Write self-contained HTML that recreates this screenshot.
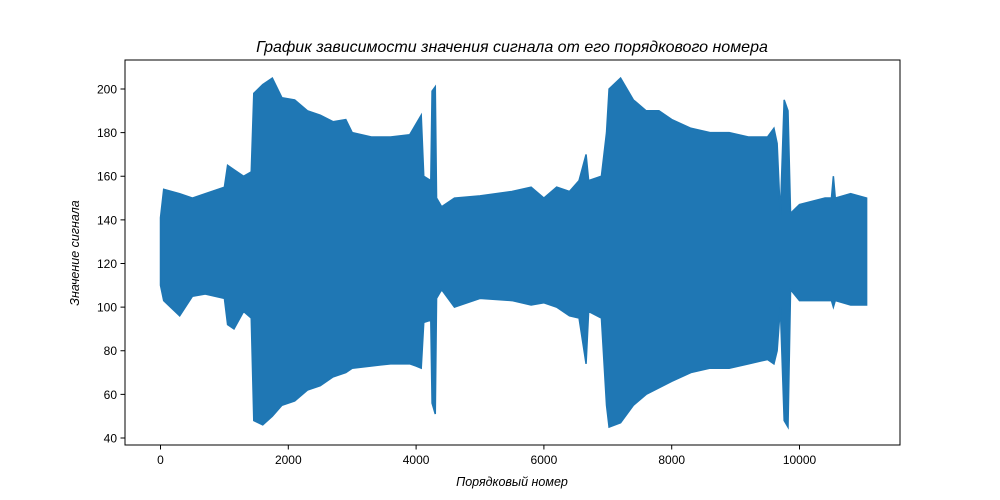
<!DOCTYPE html>
<html><head><meta charset="utf-8"><style>
body{margin:0;background:#fff;}
svg{display:block;font-family:"Liberation Sans","DejaVu Sans",sans-serif;}
</style></head><body>
<svg id="chart" width="1000" height="500">
<text x="512" y="52" text-anchor="middle" font-size="16" font-style="italic">График зависимости значения сигнала от его порядкового номера</text>
<text x="512" y="486" text-anchor="middle" font-size="12.5" font-style="italic">Порядковый номер</text>
<text transform="translate(79,253) rotate(-90)" text-anchor="middle" font-size="12.5" font-style="italic">Значение сигнала</text>
<g id="plot"></g>
<rect x="125" y="60" width="775" height="385" fill="none" stroke="#000" stroke-width="1"/>
<g id="xt"></g><g id="yt"></g>
</svg>
<script>
const sampleIdx=[0,50,300,500,700,1000,1050,1150,1300,1420,1460,1600,1750,1900,2100,2300,2500,2700,2900,3000,3300,3600,3900,4000,4080,4120,4230,4250,4300,4320,4400,4600,5000,5500,5800,6000,6200,6400,6550,6660,6700,6900,6980,7020,7200,7400,7600,7800,8000,8300,8600,8900,9200,9500,9600,9650,9700,9760,9820,9860,10000,10400,10500,10530,10560,10800,11050];
const upperVals=[141,154,152,150,152,155,165,163,160,162,198,202,205,196,195,190,188,185,186,180,178,178,179,184,188,160,158,199,201,150,146,150,151,153,155,150,155,153,158,170,158,160,180,200,205,195,190,190,186,182,180,180,178,178,182,175,142,195,190,143,147,150,150,160,150,152,150];
const lowerVals=[110,103,96,105,106,104,92,90,98,95,48,46,50,55,57,62,64,68,70,72,73,74,74,73,72,93,94,56,51,104,108,100,104,103,101,102,100,96,95,74,98,95,55,45,47,55,60,63,66,70,72,72,74,76,74,80,100,48,45,108,103,103,103,100,103,101,101];
const xTicks=[0,2000,4000,6000,8000,10000];
const yTicks=[40,60,80,100,120,140,160,180,200];
const X=v=>160.5+v*0.0639;
const Y=v=>438-(v-40)*2.1813;
const NS="http://www.w3.org/2000/svg";
const plot=document.getElementById('plot');
let d="M"+X(sampleIdx[0])+","+Y(upperVals[0]);
for(let i=1;i<sampleIdx.length;i++)d+=" L"+X(sampleIdx[i])+","+Y(upperVals[i]);
for(let i=sampleIdx.length-1;i>=0;i--)d+=" L"+X(sampleIdx[i])+","+Y(lowerVals[i]);
d+="Z";
const p=document.createElementNS(NS,'path');
p.setAttribute('d',d);p.setAttribute('fill','#1f77b4');p.setAttribute('stroke','#1f77b4');p.setAttribute('stroke-width','1.5');


plot.appendChild(p);
const xt=document.getElementById('xt');
xTicks.forEach(v=>{
 const l=document.createElementNS(NS,'line');
 l.setAttribute('x1',X(v));l.setAttribute('x2',X(v));l.setAttribute('y1',445);l.setAttribute('y2',449.5);l.setAttribute('stroke','#000');
 
 
 xt.appendChild(l);
 const t=document.createElementNS(NS,'text');
 t.setAttribute('x',X(v));t.setAttribute('y',464);t.setAttribute('text-anchor','middle');t.setAttribute('font-size','12');
 t.textContent=v;
 
 
 xt.appendChild(t);
});
const yt=document.getElementById('yt');
yTicks.forEach(v=>{
 const l=document.createElementNS(NS,'line');
 l.setAttribute('x1',120.5);l.setAttribute('x2',125);l.setAttribute('y1',Y(v));l.setAttribute('y2',Y(v));l.setAttribute('stroke','#000');
 
 
 yt.appendChild(l);
 const t=document.createElementNS(NS,'text');
 t.setAttribute('x',117);t.setAttribute('y',Y(v)+4.5);t.setAttribute('text-anchor','end');t.setAttribute('font-size','12');
 t.textContent=v;
 
 
 yt.appendChild(t);
});
</script>
</body></html>
